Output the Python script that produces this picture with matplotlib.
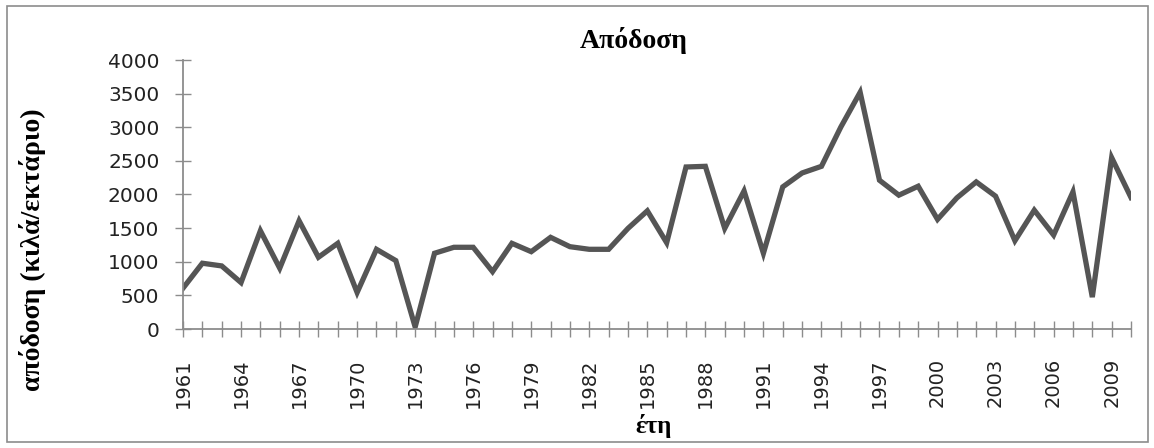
import matplotlib.pyplot as plt
from matplotlib.patches import Rectangle

# yield per year
years = list(range(1961, 2011))
yield_kg = [607, 978, 938, 690, 1461, 904, 1609, 1067, 1274, 543,
            1185, 1017, 30, 1126, 1215, 1215, 853, 1274, 1150, 1363,
            1224, 1185, 1185, 1496, 1757, 1283, 2409, 2419, 1496, 2053,
            1126, 2113, 2320, 2419, 3002, 3520, 2212, 1990, 2123, 1630,
            1950, 2187, 1975, 1313, 1767, 1397, 2039, 474, 2548, 1955]
tick_years = list(range(1961, 2010, 3))
y_ticks = [0, 500, 1000, 1500, 2000, 2500, 3000, 3500, 4000]

W, H = 1154, 448
fig = plt.figure(figsize=(W / 100, H / 100), dpi=100)
fig.patches.append(Rectangle((7 / W, 6 / H), 1141 / W, 436 / H, transform=fig.transFigure,
                             fill=False, edgecolor='#8c8c8c', linewidth=1.2))

ax = fig.add_axes([183 / W, 1 - 329 / H, (1131 - 183) / W, (329 - 60) / H])
ax.plot(years, yield_kg, color='#555555', linewidth=3.8, solid_joinstyle='miter')

ax.set_xlim(1961, 2010)
ax.set_ylim(0, 4000)
ax.set_xticks(years)
ax.set_xticklabels([str(y) if y in tick_years else '' for y in years], rotation=90,
                   fontsize=14, family='DejaVu Sans', color='#222222')
ax.set_yticks(y_ticks)
ax.set_yticklabels([str(v) for v in y_ticks], fontsize=14.5, family='DejaVu Sans', color='#222222')

for s in ['top', 'right']:
    ax.spines[s].set_visible(False)
for s in ['left', 'bottom']:
    ax.spines[s].set_color('#8c8c8c')
    ax.spines[s].set_linewidth(1.3)
ax.tick_params(axis='x', direction='inout', length=12, width=1, color='#8c8c8c', pad=15)
ax.tick_params(axis='y', direction='inout', length=12, width=1, color='#8c8c8c', pad=11)

fig.text(634 / W, 1 - 40 / H, 'Απόδοση', ha='center', va='center',
         family='Liberation Serif', fontweight='bold', fontsize=20)
fig.text(654 / W, 1 - 433 / H, 'έτη', ha='center', va='baseline',
         family='Liberation Serif', fontweight='bold', fontsize=18)
fig.text(33 / W, 1 - 250 / H, 'απόδοση (κιλά/εκτάριο)', ha='center', va='center', rotation=90,
         family='Liberation Serif', fontweight='bold', fontsize=20)

fig.savefig('out.png', dpi=100)
